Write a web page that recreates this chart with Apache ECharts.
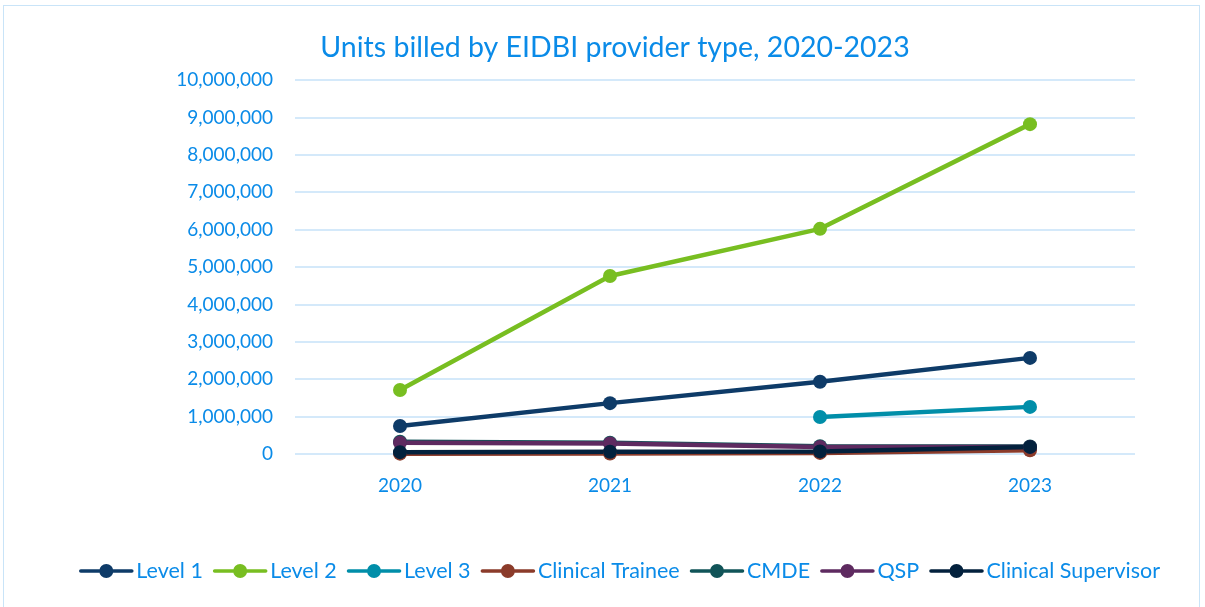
<!DOCTYPE html>
<html><head><meta charset="utf-8">
<script src="https://cdn.jsdelivr.net/npm/echarts@6/dist/echarts.min.js"></script>
<style>html,body{margin:0;padding:0;background:#fff}
#frame{position:absolute;left:3px;top:5px;width:1197px;height:620px;border:1px solid #c9e4f8;box-sizing:border-box}
#c{width:1205px;height:607px;position:absolute;left:0;top:0}</style>
</head><body><div id="frame"></div><div id="c"></div>
<script>
const categories = ['2020', '2021', '2022', '2023'];
const level1 = [750000, 1360000, 1930000, 2570000];
const level2 = [1710000, 4760000, 6020000, 8820000];
const level3 = [null, null, 990000, 1260000];
const clinicalTrainee = [10000, 15000, 30000, 100000];
const cmde = [330000, 300000, 210000, 200000];
const qsp = [300000, 280000, 190000, 190000];
const clinicalSupervisor = [50000, 60000, 70000, 190000];
const yTicks = [0, 1000000, 2000000, 3000000, 4000000, 5000000, 6000000, 7000000, 8000000, 9000000, 10000000];

const txt = '#0a8be8';
const font = 'Lato, "Open Sans", sans-serif';
const legendIcon = 'path://M2,5.2 L53,5.2 A1.8,1.8 0 0,1 53,8.8 L2,8.8 A1.8,1.8 0 0,1 2,5.2 Z M20.5,7 A7,7 0 1,1 34.5,7 A7,7 0 1,1 20.5,7 Z';
function s(name, data, color) {
  return {name, type: 'line', data, color, symbol: 'circle', symbolSize: 14,
    lineStyle: {width: 4.5, color}, itemStyle: {color}, connectNulls: false};
}
const chart = echarts.init(document.getElementById('c'));
chart.setOption({
  animation: false,
  title: {text: 'Units billed by EIDBI provider type, 2020-2023', left: 610, top: 28, textAlign: 'center',
    textStyle: {color: txt, fontSize: 28.5, fontWeight: 'normal', fontFamily: font}},
  grid: {left: 295, right: 70, top: 80, bottom: 153},
  legend: {bottom: 20, left: 74, icon: legendIcon, itemWidth: 56, itemHeight: 14, itemGap: 10,
    textStyle: {color: txt, fontSize: 21.5, fontFamily: font, padding: [0, 0, 0, -3]}},
  xAxis: {type: 'category', data: categories, boundaryGap: true,
    axisLine: {show: false}, axisTick: {show: false},
    axisLabel: {color: txt, fontSize: 19, fontFamily: font, margin: 22}},
  yAxis: {type: 'value', min: 0, max: 10000000, interval: 1000000,
    axisLine: {show: false}, axisTick: {show: false},
    splitLine: {lineStyle: {color: '#c6e2f8', width: 1.5}},
    axisLabel: {color: txt, fontSize: 19, fontFamily: font, margin: 22,
      formatter: v => yTicks.includes(v) ? v.toLocaleString('en-US') : ''}},
  series: [
    s('Level 1', level1, '#0e3b68'),
    s('Level 2', level2, '#78be21'),
    s('Level 3', level3, '#008ea9'),
    s('Clinical Trainee', clinicalTrainee, '#8b3b2a'),
    s('CMDE', cmde, '#115458'),
    s('QSP', qsp, '#5e2a60'),
    s('Clinical Supervisor', clinicalSupervisor, '#03213d')
  ]
});
</script></body></html>
